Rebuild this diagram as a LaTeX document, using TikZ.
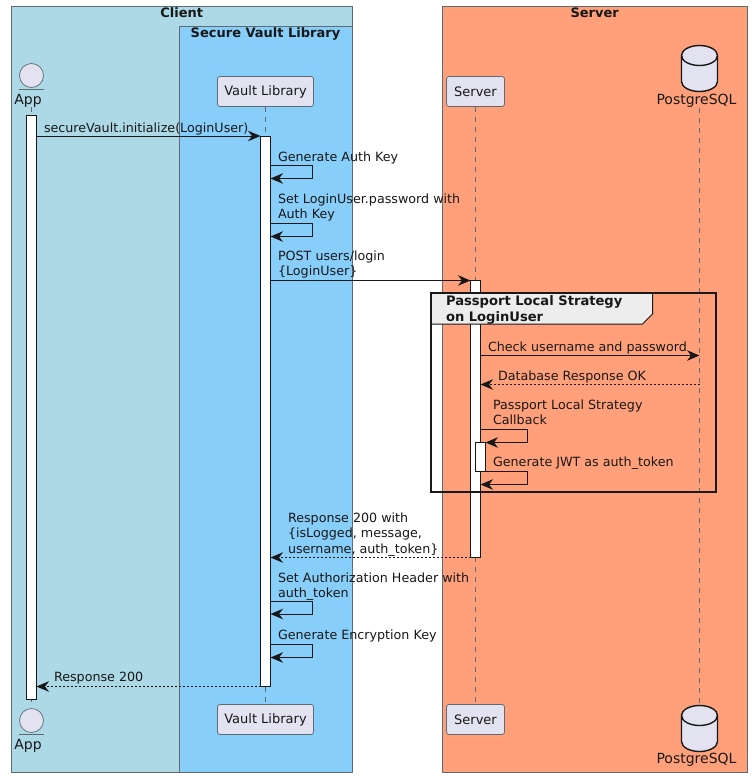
\documentclass[tikz,border=0pt]{standalone}
\usepackage{fontspec}
\setmainfont{DejaVu Sans}
\usetikzlibrary{arrows.meta,calc}
\definecolor{cClient}{HTML}{ADD8E6}
\definecolor{cVault}{HTML}{87CEFA}
\definecolor{cServer}{HTML}{FFA07A}
\definecolor{cPart}{HTML}{E2E2F0}
\definecolor{cLine}{HTML}{181818}
\definecolor{cBorder}{HTML}{5F6B70}
\tikzset{
  every node/.style={inner sep=0pt,outer sep=0pt,text=cLine},
  boxarea/.style={draw=cBorder,line width=0.9pt},
  boxtitle/.style={anchor=base,font=\fontsize{13}{15}\selectfont\bfseries},
  participantbox/.style={draw=cBorder,fill=cPart,rounded corners=2.5pt,line width=0.8pt,minimum width=#1,minimum height=30pt,anchor=center,font=\fontsize{13}{16}\selectfont},
  actorhead/.style={circle,draw=cBorder,fill=cPart,line width=0.7pt,minimum size=24pt},
  actorname/.style={anchor=base,font=\fontsize{14}{16}\selectfont},
  lifeline/.style={draw=cBorder,line width=0.8pt,dash pattern=on 5pt off 5pt},
  activation/.style={rectangle,draw=cLine,fill=white,line width=1pt,minimum width=10pt,minimum height=#1},
  msg/.style={draw=cLine,line width=1pt,-{Stealth[length=12.5pt,width=10.5pt,inset=4pt]}},
  ret/.style={msg,dash pattern=on 2pt off 2pt},
  label/.style={anchor=base west,align=left,font=\fontsize{12.7}{15}\selectfont},
  headlabel/.style={anchor=base west,align=left,font=\fontsize{13.1}{15.5}\selectfont\bfseries},
  frameline/.style={draw=black!90,line width=2pt},
  cylpath/.style={draw=cLine,fill=cPart,line width=1.4pt},
}
\begin{document}
\begin{tikzpicture}[x=1pt,y=-1pt]
\useasboundingbox[fill=white] (0,0) rectangle (752,777);
% boxes
\filldraw[boxarea,fill=cClient] (11.5,6.5) rectangle (352.5,772.5);
\filldraw[boxarea,fill=cVault] (179.5,26.5) rectangle (352.5,772.5);
\filldraw[boxarea,fill=cServer] (442.5,6.5) rectangle (747.5,772.5);
\node[boxtitle] (tClient) at (181.8,17.5) {Client};
\node[boxtitle] (tVaultLib) at (265.5,37.5) {Secure Vault Library};
\node[boxtitle] (tServer) at (594.7,17.5) {Server};
% participants
\node[participantbox=96pt] (vaultT) at (265.5,91.5) {Vault Library};
\node[participantbox=96pt] (vaultB) at (265.5,719.5) {Vault Library};
\node[participantbox=58pt] (serverT) at (475.5,91.5) {Server};
\node[participantbox=58pt] (serverB) at (475.5,719.5) {Server};
% actor
\node[actorhead] (appHeadT) at (31.5,75.5) {};
\node[actorhead] (appHeadB) at (31.5,720.5) {};
\draw[cBorder,line width=0.8pt] (19,89.5) -- (44,89.5);
\draw[cBorder,line width=0.8pt] (19,734.5) -- (44,734.5);
\node[actorname] (appT) at (28,104.5) {App};
\node[actorname] (appB) at (28,749.5) {App};
% database
\foreach \yy in {45.5,705.5}{
  \draw[cylpath] (681.5,\yy+10) arc[start angle=180,end angle=360,x radius=18,y radius=10]
    -- (717.5,\yy+36) arc[start angle=0,end angle=180,x radius=18,y radius=10] -- cycle;
  \draw[cylpath,fill=none] (681.5,\yy+10) arc[start angle=180,end angle=0,x radius=18,y radius=10];
}
\node[actorname] (pgT) at (696.5,104.5) {PostgreSQL};
\node[actorname] (pgB) at (696.5,763.5) {PostgreSQL};
\coordinate (appLT) at (31.5,107);
\coordinate (appLB) at (31.5,707);
\coordinate (pgLT) at (699.5,108);
\coordinate (pgLB) at (699.5,704);
% lifelines
\draw[lifeline] (appLT) -- (appLB);
\draw[lifeline] (vaultT.south) -- (vaultB.north);
\draw[lifeline] (serverT.south) -- (serverB.north);
\draw[lifeline] (pgLT) -- (pgLB);
% activations
\node[activation=584pt] (acA) at (31.5,407.5) {};
\node[activation=550.5pt] (acV) at (265.5,411.25) {};
\node[activation=277pt] (acS) at (475.5,419) {};
\node[activation=28.5pt] (acN) at (480.5,457) {};
% messages
\draw[msg] (acA.east |- 0,136) -- (acV.west |- 0,136);
\draw[msg] (acV.east |- 0,165) -- ++(42,0) -- ++(0,13.5) -- (acV.east |- 0,178.5);
\draw[msg] (acV.east |- 0,223.5) -- ++(42,0) -- ++(0,13) -- (acV.east |- 0,236.5);
\draw[msg,line width=0.9pt] (acV.east |- 0,280.5) -- (acS.west |- 0,280.5);
\draw[msg] (acS.east |- 0,355.5) -- (pgLT |- 0,355.5);
\draw[ret] (pgLT |- 0,384.5) -- (acS.east |- 0,384.5);
\draw[msg] (acS.east |- 0,429.5) -- ++(47,0) -- ++(0,13) -- (acN.east |- 0,442.5);
\draw[msg] (acN.east |- 0,471.5) -- ++(42,0) -- ++(0,13) -- (acS.east |- 0,484.5);
\draw[ret] (acS.west |- 0,557.5) -- (acV.east |- 0,557.5);
\draw[msg] (acV.east |- 0,601) -- ++(42,0) -- ++(0,13) -- (acV.east |- 0,614);
\draw[msg] (acV.east |- 0,644.5) -- ++(42,0) -- ++(0,13) -- (acV.east |- 0,657.5);
\draw[ret] (acV.west |- 0,686.5) -- (acA.east |- 0,686.5);
% message labels
\node[label] (m1) at (44,132) {secureVault.initialize(LoginUser)};
\node[label] (m2) at (278,161) {Generate Auth Key};
\node[label] (m3a) at (278,203) {Set LoginUser.password with};
\node[label] (m3b) at (278,218) {Auth Key};
\node[label] (m4a) at (278,260) {POST users/login};
\node[label] (m4b) at (278,275) {\{LoginUser\}};
\node[label] (m5) at (488,351) {Check username and password};
\node[label] (m6) at (498,380) {Database Response OK};
\node[label] (m7a) at (493,409) {Passport Local Strategy};
\node[label] (m7b) at (493,424) {Callback};
\node[label] (m8) at (493,466) {Generate JWT as auth\_token};
\node[label] (m9a) at (288,522) {Response 200 with};
\node[label] (m9b) at (288,537) {\{isLogged, message,};
\node[label] (m9c) at (288,553) {username, auth\_token\}};
\node[label] (m10a) at (278,582) {Set Authorization Header with};
\node[label] (m10b) at (278,597) {auth\_token};
\node[label] (m11) at (278,639) {Generate Encryption Key};
\node[label] (m12) at (54,681) {Response 200};
% group
\filldraw[draw=cLine,line width=1pt,fill=black!7] (431,293) -- (652.5,293) -- (652.5,314) -- (642.5,324) -- (431,324) -- cycle;
\draw[frameline] (430.5,292.5) rectangle (715.5,492);
\node[headlabel] (g1) at (446,305) {Passport Local Strategy};
\node[headlabel] (g2) at (446,321) {on LoginUser};
\end{tikzpicture}
\end{document}
